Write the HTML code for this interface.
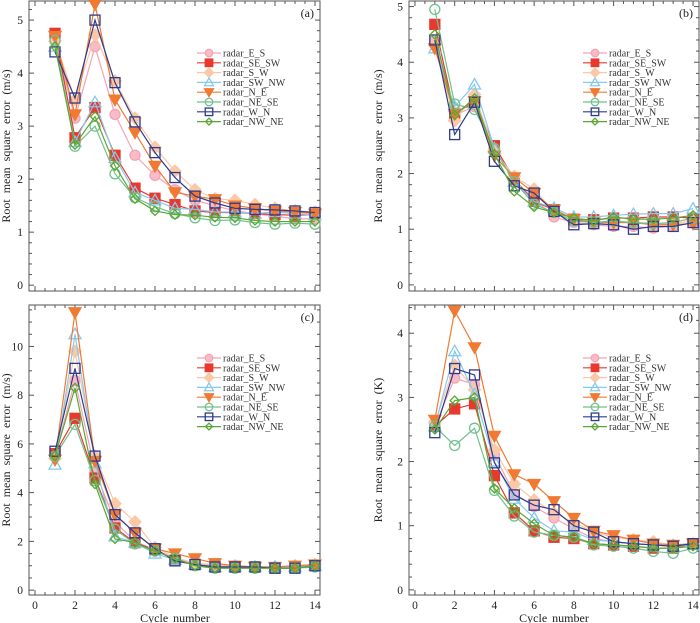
<!DOCTYPE html>
<html><head><meta charset="utf-8"><style>
body{margin:0;background:#fff}
svg{display:block}
svg text{font-family:"Liberation Serif","DejaVu Serif",serif}
</style></head><body>
<svg id="chart" width="700" height="623" viewBox="0 0 700 623" xmlns="http://www.w3.org/2000/svg" font-family="Liberation Serif, serif"></svg>
<script>
const cycles=[1,2,3,4,5,6,7,8,9,10,11,12,13,14];
const seriesNames=["radar_E_S","radar_SE_SW","radar_S_W","radar_SW_NW","radar_N_E","radar_NE_SE","radar_W_N","radar_NW_NE"];
const panelALabel="(a)",panelBLabel="(b)",panelCLabel="(c)",panelDLabel="(d)";
const dataA=[
[4.6,3.15,4.5,3.22,2.45,2.07,1.8,1.6,1.5,1.4,1.35,1.3,1.25,1.25],
[4.75,2.78,3.35,2.45,1.83,1.64,1.52,1.4,1.37,1.37,1.35,1.33,1.32,1.33],
[4.6,3.5,4.72,3.85,3.15,2.6,2.15,1.8,1.63,1.6,1.52,1.45,1.4,1.38],
[4.5,2.7,3.45,2.4,1.75,1.6,1.45,1.43,1.38,1.38,1.35,1.38,1.35,1.32],
[4.7,3.22,5.3,3.5,2.88,2.25,1.75,1.68,1.62,1.5,1.45,1.4,1.38,1.35],
[4.62,2.62,3.0,2.1,1.65,1.48,1.35,1.27,1.22,1.23,1.18,1.15,1.17,1.15],
[4.4,3.53,5.0,3.82,3.08,2.5,2.03,1.68,1.55,1.45,1.43,1.42,1.4,1.37],
[4.5,2.65,3.18,2.25,1.63,1.4,1.33,1.32,1.28,1.27,1.22,1.2,1.2,1.2]];
const dataB=[
[4.4,3.05,3.2,2.45,1.85,1.55,1.22,1.12,1.08,1.05,1.05,1.02,1.05,1.12],
[4.68,3.08,3.28,2.5,1.9,1.5,1.35,1.18,1.17,1.2,1.2,1.22,1.22,1.2],
[4.3,2.95,3.42,2.4,1.95,1.72,1.3,1.15,1.12,1.12,1.12,1.1,1.1,1.15],
[4.25,3.2,3.6,2.45,1.85,1.5,1.38,1.22,1.22,1.25,1.27,1.28,1.28,1.37],
[4.25,3.07,3.3,2.32,1.93,1.65,1.35,1.18,1.12,1.12,1.12,1.08,1.08,1.1],
[4.95,3.25,3.15,2.45,1.85,1.45,1.3,1.15,1.12,1.15,1.12,1.1,1.12,1.2],
[4.4,2.7,3.28,2.22,1.78,1.65,1.32,1.08,1.1,1.08,1.0,1.05,1.05,1.12],
[4.5,3.05,3.35,2.35,1.68,1.4,1.3,1.2,1.15,1.22,1.18,1.18,1.2,1.25]];
const dataC=[
[5.5,8.6,4.9,2.8,2.0,1.65,1.3,1.1,1.0,1.0,0.95,0.95,1.0,1.05],
[5.6,7.05,4.6,2.55,1.95,1.65,1.25,1.05,0.95,0.95,0.95,0.9,0.95,1.0],
[5.4,9.8,5.5,3.55,2.8,1.75,1.35,1.1,1.05,1.0,0.95,0.95,1.0,1.05],
[5.15,10.5,5.2,2.2,1.95,1.5,1.25,1.05,0.95,0.95,0.95,0.95,0.95,1.0],
[5.35,11.4,5.3,3.1,2.35,1.7,1.5,1.3,1.1,1.0,0.95,0.95,1.0,1.05],
[5.5,6.8,4.5,2.5,1.9,1.6,1.3,1.0,0.9,0.9,0.9,0.9,0.9,0.95],
[5.7,9.1,5.5,3.1,2.35,1.7,1.2,1.05,0.95,0.95,0.95,0.9,0.9,1.0],
[5.5,8.3,4.35,2.1,1.95,1.6,1.3,1.0,0.9,0.9,0.9,0.9,0.9,1.0]];
const dataD=[
[2.55,3.3,3.2,2.1,1.5,1.3,1.12,0.95,0.8,0.75,0.72,0.7,0.68,0.72],
[2.55,2.82,2.9,1.78,1.2,0.92,0.82,0.8,0.72,0.7,0.68,0.65,0.65,0.72],
[2.6,3.5,3.12,2.18,1.65,1.4,1.2,1.05,0.9,0.82,0.78,0.75,0.7,0.72],
[2.55,3.72,3.05,2.0,1.42,1.12,0.92,0.9,0.78,0.75,0.72,0.7,0.68,0.7],
[2.65,4.35,3.78,2.4,1.8,1.65,1.38,1.12,0.92,0.85,0.78,0.72,0.7,0.72],
[2.55,2.25,2.52,1.55,1.15,0.9,0.85,0.82,0.7,0.68,0.65,0.6,0.57,0.65],
[2.45,3.45,3.35,1.98,1.48,1.32,1.25,1.0,0.9,0.75,0.72,0.7,0.68,0.72],
[2.5,2.95,3.0,1.58,1.27,1.03,0.85,0.82,0.72,0.7,0.68,0.65,0.65,0.68]];
const xTicks=[0,2,4,6,8,10,12,14];
const yTicksA=[0,1,2,3,4,5],yTicksB=[0,1,2,3,4,5],yTicksC=[0,2,4,6,8,10],yTicksD=[0,1,2,3,4];

const styles=[
{c:"#f4a3b4",f:"#f8bcc8",m:"circle"},
{c:"#e8392e",f:"#e8392e",m:"square"},
{c:"#fbc7a4",f:"#fcc9a6",m:"diamond"},
{c:"#86c9ee",f:"none",m:"tri"},
{c:"#f07a32",f:"#f07a32",m:"dtri"},
{c:"#72c08c",f:"none",m:"circle"},
{c:"#2d3b8e",f:"none",m:"square"},
{c:"#5aa832",f:"none",m:"sdiamond"}];

const NS="http://www.w3.org/2000/svg";
const svg=document.getElementById('chart');
const FONT='Liberation Serif, DejaVu Serif, serif';
function mk(tag,attrs,parent){const e=document.createElementNS(NS,tag);for(const k in attrs)e.setAttribute(k,attrs[k]);if(tag==='text')e.setAttribute('font-family',FONT);(parent||svg).appendChild(e);return e;}
function marker(g,m,x,y,st,s){
  s=s||1;
  let e;
  if(m==="circle")e=mk('circle',{cx:x,cy:y,r:5*s},g);
  else if(m==="square")e=mk('rect',{x:x-5*s,y:y-5*s,width:10*s,height:10*s},g);
  else if(m==="diamond")e=mk('polygon',{points:`${x},${y-6*s} ${x+6*s},${y} ${x},${y+6*s} ${x-6*s},${y}`},g);
  else if(m==="sdiamond")e=mk('polygon',{points:`${x},${y-4.5*s} ${x+4.5*s},${y} ${x},${y+4.5*s} ${x-4.5*s},${y}`},g);
  else if(m==="tri")e=mk('polygon',{points:`${x},${y-6*s} ${x+6*s},${y+4.5*s} ${x-6*s},${y+4.5*s}`},g);
  else e=mk('polygon',{points:`${x},${y+6*s} ${x+6*s},${y-4.5*s} ${x-6*s},${y-4.5*s}`},g);
  e.setAttribute('fill',st.f);e.setAttribute('stroke',st.c);e.setAttribute('stroke-width',1.3);
  
  
}
function panel(o){
  const g=mk('g',{});
  
  
  const X=v=>o.L+(v-o.xmin)/(o.xmax-o.xmin)*(o.R-o.L);
  const Y=v=>o.B-(v-o.ymin)/(o.ymax-o.ymin)*(o.B-o.T);
  const box=mk('rect',{x:o.L,y:o.T,width:o.R-o.L,height:o.B-o.T,fill:'none',stroke:'#555','stroke-width':1},g);
  
  
  for(let v=0;v<=14.001;v+=0.5){const x=X(v),len=(Math.abs(v%2)<1e-6)?5:3;
    mk('line',{x1:x,y1:o.B,x2:x,y2:o.B-len,stroke:'#555'},g);mk('line',{x1:x,y1:o.T,x2:x,y2:o.T+len,stroke:'#555'},g);}
  for(let v=0;v<=o.ymax+1e-6;v+=o.minor){const y=Y(v),maj=Math.abs(v/o.major-Math.round(v/o.major))<1e-6,len=maj?5:3;
    mk('line',{x1:o.L,y1:y,x2:o.L+len,y2:y,stroke:'#555'},g);mk('line',{x1:o.R,y1:y,x2:o.R-len,y2:y,stroke:'#555'},g);}
  o.yt.forEach(v=>{const t=mk('text',{x:o.L-6,y:Y(v)+4,'text-anchor':'end','font-size':11.5,fill:'#222'},g);t.textContent=v;
    });
  if(o.xlab){xTicks.forEach(v=>{const t=mk('text',{x:X(v),y:o.B+14,'text-anchor':'middle','font-size':11.5,fill:'#222'},g);t.textContent=v;
    });
    const t=mk('text',{x:(X(0)+X(14))/2,y:o.B+27,'text-anchor':'middle','font-size':12,fill:'#222','word-spacing':'2px'},g);t.textContent='Cycle number';
    }
  const yl=mk('text',{x:0,y:0,'text-anchor':'middle','font-size':12,fill:'#222','word-spacing':'3px',transform:`translate(${o.titleX},${(o.T+o.B)/2}) rotate(-90)`},g);
  yl.textContent=o.ytitle;
  
  const pl=mk('text',{x:o.R-6,y:o.T+16,'text-anchor':'end','font-size':12,fill:'#222'},g);pl.textContent=o.label;
  
  o.data.forEach((s,i)=>{const st=styles[i];
    const sg=mk('g',{},g);
    
    
    const p=mk('polyline',{points:s.map((v,j)=>X(cycles[j])+','+Y(v)).join(' '),fill:'none',stroke:st.c,'stroke-width':1.2},sg);
    
    s.forEach((v,j)=>marker(sg,st.m,X(cycles[j]),Y(v),st));
  });
  const lg=mk('g',{},g);
  
  
  seriesNames.forEach((n,i)=>{const st=styles[i],y=o.legY+i*9.8;
    const eg=mk('g',{},lg);
    
    
    mk('line',{x1:o.legX,y1:y,x2:o.legX+24,y2:y,stroke:st.c,'stroke-width':1.2},eg);
    marker(eg,st.m,o.legX+12,y,st,0.75);
    const t=mk('text',{x:o.legX+26,y:y+3.5,'font-size':10,fill:'#333'},eg);t.textContent=n;
  });
}
panel({id:'a',L:29,R:320,T:1,B:291,xmin:-0.3,xmax:14.25,ymin:-0.11,ymax:5.36,major:1,minor:0.2,yt:yTicksA,data:dataA,label:panelALabel,ytitle:'Root mean square error (m/s)',titleX:10,legX:197,legY:53,xlab:false});
panel({id:'b',L:409,R:699,T:1,B:291,xmin:-0.3,xmax:14.3,ymin:-0.11,ymax:5.1,major:1,minor:0.2,yt:yTicksB,data:dataB,label:panelBLabel,ytitle:'Root mean square error (m/s)',titleX:382,legX:583,legY:53,xlab:false});
panel({id:'c',L:29,R:320,T:305,B:595,xmin:-0.3,xmax:14.25,ymin:-0.2,ymax:11.7,major:2,minor:0.5,yt:yTicksC,data:dataC,label:panelCLabel,ytitle:'Root mean square error (m/s)',titleX:10,legX:197,legY:358,xlab:true});
panel({id:'d',L:409,R:699,T:305,B:595,xmin:-0.3,xmax:14.3,ymin:-0.08,ymax:4.44,major:1,minor:0.2,yt:yTicksD,data:dataD,label:panelDLabel,ytitle:'Root mean square error (K)',titleX:382,legX:583,legY:358,xlab:true});
</script>
</body></html>
